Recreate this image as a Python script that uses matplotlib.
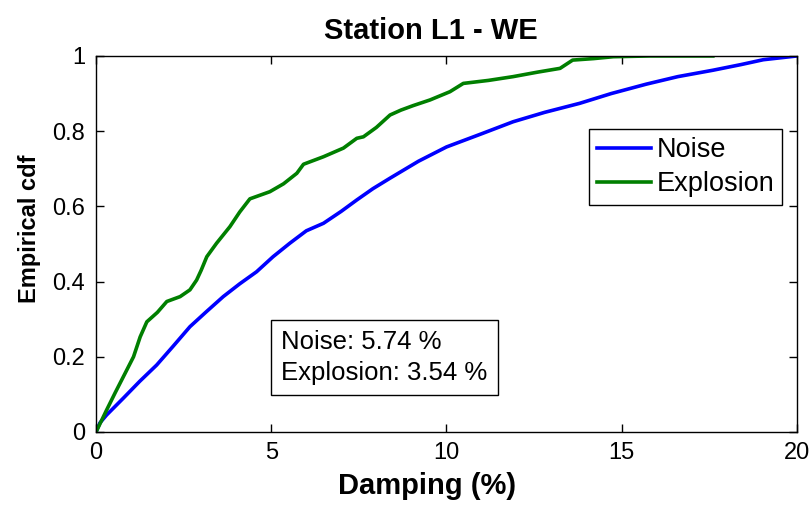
"""
Empirical cdf of damping ratios, station L1 - WE (noise vs explosion).
"""
import numpy as np
import matplotlib
matplotlib.use("Agg")
import matplotlib.pyplot as plt

plt.rcParams["font.family"] = ["Liberation Sans", "DejaVu Sans"]

# values (damping %, cdf)
noise_x = [0.0, 0.11, 0.3, 0.78, 1.25, 1.73, 2.2, 2.68, 3.15, 3.63, 4.1,
           4.58, 5.05, 5.53, 6.0, 6.49, 7.0, 7.44, 7.9, 8.39, 9.2, 10.0,
           11.0, 11.9, 12.8, 13.8, 14.7, 15.7, 16.6, 17.6, 18.4, 19.04, 20.0]
noise_y = [0.0, 0.024, 0.045, 0.09, 0.135, 0.178, 0.228, 0.28, 0.32, 0.36,
           0.394, 0.426, 0.466, 0.502, 0.535, 0.555, 0.587, 0.617, 0.647,
           0.675, 0.72, 0.758, 0.793, 0.825, 0.85, 0.874, 0.9, 0.925, 0.945,
           0.962, 0.977, 0.99, 1.0]

expl_x = [0.0, 0.3, 0.55, 0.78, 1.07, 1.26, 1.45, 1.75, 2.02, 2.4, 2.68,
          2.87, 3.0, 3.16, 3.44, 3.82, 4.1, 4.39, 4.96, 5.35, 5.73, 5.92,
          6.49, 7.06, 7.44, 7.63, 8.0, 8.39, 8.7, 9.05, 9.53, 10.1, 10.48,
          11.2, 11.9, 12.6, 13.24, 13.6, 14.2, 14.76, 15.8, 17.6]
expl_y = [0.0, 0.058, 0.105, 0.147, 0.2, 0.253, 0.293, 0.318, 0.347, 0.36,
          0.378, 0.404, 0.43, 0.466, 0.502, 0.546, 0.585, 0.62, 0.639, 0.66,
          0.688, 0.712, 0.732, 0.755, 0.781, 0.785, 0.81, 0.843, 0.856,
          0.868, 0.883, 0.905, 0.927, 0.935, 0.945, 0.957, 0.967, 0.989,
          0.993, 0.998, 1.0, 1.0]

series = ["Noise", "Explosion"]
colors = ["#0000ff", "#007f00"]
stats = [5.74, 3.54]

fig = plt.figure(figsize=(8.11, 5.05), dpi=100)
ax = fig.add_axes([0.1184, 0.1446, 0.8643, 0.7446])

ax.plot(noise_x, noise_y, color=colors[0], lw=2.6, label=series[0])
ax.plot(expl_x, expl_y, color=colors[1], lw=2.6, label=series[1])

ax.set_xlim(0, 20)
ax.set_ylim(0, 1)
ax.set_xticks([0, 5, 10, 15, 20])
ax.set_yticks([0, 0.2, 0.4, 0.6, 0.8, 1])
ax.set_yticklabels(["0", "0.2", "0.4", "0.6", "0.8", "1"])
ax.tick_params(direction="in", top=True, right=True, length=6, width=1,
               labelsize=17)
ax.tick_params(axis="x", pad=7)
ax.tick_params(axis="y", pad=8)
for s in ax.spines.values():
    s.set_linewidth(1)

ax.set_title("Station L1 - WE", fontsize=21, fontweight="bold", pad=12,
             x=0.478)
ax.set_xlabel("Damping (%)", fontsize=21, fontweight="bold", labelpad=6,
              x=0.472)
ax.set_ylabel("Empirical cdf", fontsize=17, fontweight="bold", labelpad=8,
              y=0.54)

leg = ax.legend(loc="upper right", bbox_to_anchor=(0.979, 0.806), fontsize=19.5,
                fancybox=False, edgecolor="black", framealpha=1,
                handlelength=2.0, handletextpad=0.2, borderpad=0.3,
                labelspacing=0.3, borderaxespad=0)
leg.get_frame().set_linewidth(1)

txt = "\n".join(f"{n}: {v:.2f} %" for n, v in zip(series, stats))
ax.text(0.264, 0.198, txt, transform=ax.transAxes, fontsize=18.5,
        va="center", ha="left", linespacing=1.35,
        bbox=dict(boxstyle="square,pad=0.4", fc="white", ec="black", lw=1))

fig.savefig("out.png", dpi=100)
